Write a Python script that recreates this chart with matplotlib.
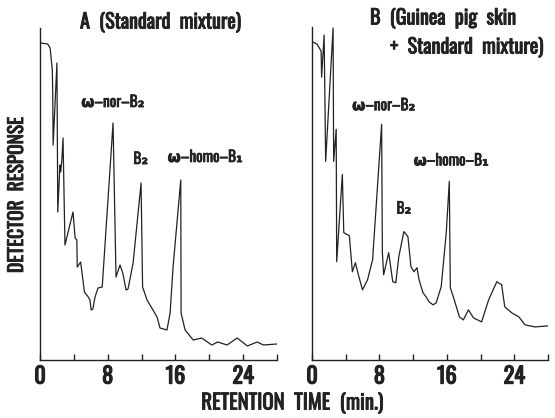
import matplotlib
matplotlib.use("Agg")
import matplotlib.pyplot as plt
import matplotlib.patheffects as pe
from matplotlib import font_manager
from matplotlib.ticker import MultipleLocator

# --- data (retention time in min, response in arbitrary units) ---
time_a = [0.1, 0.9, 1.2, 1.45, 1.5, 1.55, 2.0, 2.1, 2.35, 2.45, 2.6, 2.72, 2.95, 3.9, 4.15,
          4.35, 4.4, 4.8, 5.25, 5.7, 5.9, 6.05, 6.25, 6.5, 6.85, 7.35, 8.63, 8.98, 9.45,
          9.78, 10.17, 10.4, 11.0, 11.94, 12.12, 12.65, 13.83, 14.18, 15.0, 15.37, 15.72,
          16.63, 16.67, 17.14, 18.1, 19.1, 20.3, 21.0, 22.1, 23.3, 24.5, 25.65, 26.4, 28.0]
resp_a = [317, 316, 312, 290, 270, 215, 297, 148, 195, 188, 202, 222, 115, 148, 122,
          120, 93, 98, 68, 63, 60, 50, 51, 63, 72, 73, 237, 83, 95,
          87, 70, 71, 97, 177, 73, 60, 43, 32, 30, 47, 93,
          180, 47, 30, 20, 22, 15, 18, 15, 22, 14, 18, 15, 16]

time_b = [0.1, 0.6, 1.08, 1.14, 1.44, 1.62, 2.5, 2.57, 2.87, 2.93, 3.6, 3.77, 4.19, 4.43,
          4.79, 5.15, 5.5, 5.99, 6.59, 7.19, 8.26, 8.35, 8.5, 9.1, 9.58, 9.94, 10.3, 10.9,
          11.38, 11.74, 12.1, 12.46, 12.7, 13.17, 13.53, 13.89, 14.37, 14.73, 15.33, 15.93,
          16.29, 16.41, 16.77, 17.13, 17.49, 17.96, 18.56, 19.16, 20.12, 20.96, 21.92, 22.5,
          22.87, 23.7, 24.55, 25.27, 26.47, 28.0]
resp_b = [317, 315, 308, 282, 324, 198, 331, 198, 230, 98, 185, 127, 125, 124,
          88, 97, 85, 70, 80, 100, 235, 107, 85, 107, 78, 77, 103, 128,
          123, 93, 88, 92, 80, 67, 63, 58, 55, 57, 73, 127,
          178, 72, 63, 53, 43, 40, 50, 42, 38, 60, 78, 75,
          53, 47, 43, 35, 33, 34]

# peak labels: (text, time, response)
labels_a = [("ω–nor–B₂", 8.6, 250), ("B₂", 11.9, 193), ("ω–homo–B₁", 19.5, 195)]
labels_b = [("ω–nor–B₂", 8.5, 246), ("B₂", 10.9, 143), ("ω–homo–B₁", 16.5, 191)]

xticks_major = [0, 8, 16, 24]

# condensed grotesque like the original lettering, if one is around
names = {f.name for f in font_manager.fontManager.ttflist}
narrow = "DejaVu Sans"
for cand in ["Oswald", "Roboto Condensed", "Archivo Narrow", "Liberation Sans Narrow"]:
    if cand in names:
        narrow = cand
        break
plt.rcParams["font.family"] = [narrow, "DejaVu Sans"]
plt.rcParams["font.weight"] = "bold"
ink = "#222222"
# thicken the thin condensed letters a little
heavy = [pe.withStroke(linewidth=0.65, foreground=ink)]

fig = plt.figure(figsize=(5.55, 4.18), dpi=100)
ax_a = fig.add_axes([40 / 555, 58 / 418, 237 / 555, 332 / 418])
ax_b = fig.add_axes([312 / 555, 58 / 418, 236 / 555, 333 / 418])

for ax, t, r, labs in [(ax_a, time_a, resp_a, labels_a), (ax_b, time_b, resp_b, labels_b)]:
    ax.plot(t, r, color=ink, linewidth=0.9)
    ax.set_xlim(0, 28)
    ax.set_ylim(0, 332)
    ax.spines["top"].set_visible(False)
    ax.spines["right"].set_visible(False)
    for s in ["left", "bottom"]:
        ax.spines[s].set_linewidth(1.0)
        ax.spines[s].set_color(ink)
    ax.set_yticks([])
    ax.set_xticks(xticks_major)
    ax.xaxis.set_minor_locator(MultipleLocator(4))
    ax.tick_params(axis="x", which="both", direction="in", length=4, width=1.0,
                   color=ink, labelsize=16, pad=4, labelcolor=ink)
    for lab in ax.get_xticklabels():
        lab.set_fontweight("bold")
        lab.set_path_effects([pe.withStroke(linewidth=0.9, foreground=ink)])
    for txt, x, y in labs:
        ax.text(x, y, txt, ha="center", va="bottom", fontsize=11, fontweight="bold",
                color=ink, path_effects=[pe.withStroke(linewidth=0.5, foreground=ink)])

fig.text(80 / 555, 1 - 22 / 418, "A  (Standard  mixture)", ha="left", va="center",
         fontsize=14.5, fontweight="bold", color=ink, path_effects=heavy)
fig.text(370 / 555, 1 - 18 / 418, "B  (Guinea  pig  skin", ha="left", va="center",
         fontsize=14.5, fontweight="bold", color=ink, path_effects=heavy)
fig.text(390 / 555, 1 - 47 / 418, "+  Standard  mixture)", ha="left", va="center",
         fontsize=14.5, fontweight="bold", color=ink, path_effects=heavy)
fig.text(16 / 555, 1 - 195 / 418, "DETECTOR  RESPONSE", rotation=90, ha="center",
         va="center", fontsize=14, fontweight="bold", color=ink, path_effects=heavy)
fig.text(292 / 555, 1 - 403 / 418, "RETENTION  TIME  (min.)", ha="center", va="center",
         fontsize=15, fontweight="bold", color=ink, path_effects=heavy)

fig.savefig("out.png", dpi=100)
